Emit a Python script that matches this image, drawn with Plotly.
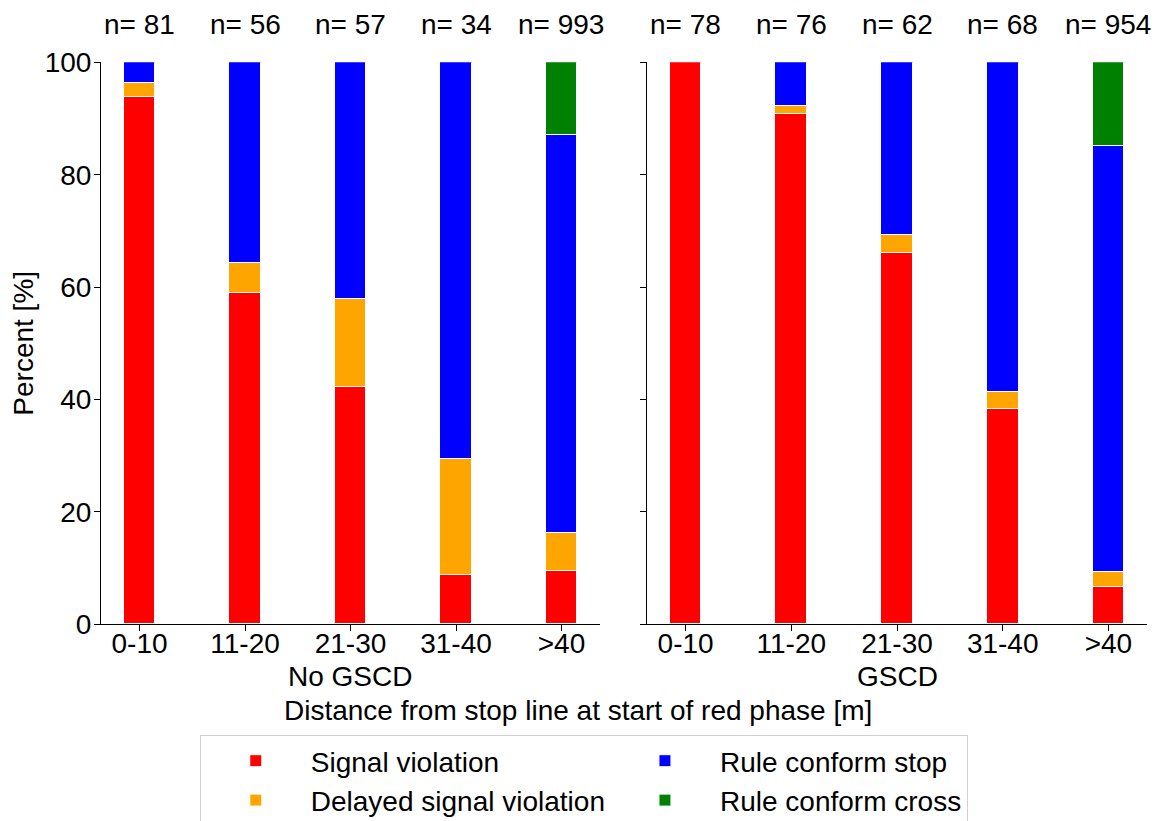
import plotly.graph_objects as go
from plotly.subplots import make_subplots

categories = ["0-10", "11-20", "21-30", "31-40", ">40"]
groups = ["No GSCD", "GSCD"]

# Percent values per category (No GSCD)
nogscd_signal_violation = [93.8, 58.9, 42.1, 8.8, 9.5]
nogscd_delayed_violation = [2.5, 5.4, 15.8, 20.6, 6.7]
nogscd_conform_stop = [3.7, 35.7, 42.1, 70.6, 70.8]
nogscd_conform_cross = [0.0, 0.0, 0.0, 0.0, 13.0]
nogscd_n = [81, 56, 57, 34, 993]

# Percent values per category (GSCD)
gscd_signal_violation = [100.0, 90.8, 66.1, 38.2, 6.5]
gscd_delayed_violation = [0.0, 1.3, 3.2, 3.0, 2.7]
gscd_conform_stop = [0.0, 7.9, 30.7, 58.8, 75.8]
gscd_conform_cross = [0.0, 0.0, 0.0, 0.0, 15.0]
gscd_n = [78, 76, 62, 68, 954]

series_names = ["Signal violation", "Delayed signal violation",
                "Rule conform stop", "Rule conform cross"]
series_colors = ["#FF0000", "#FFA500", "#0000FF", "#008000"]
legend_ranks = [1, 3, 2, 4]

FONT = "Liberation Sans, Arial, sans-serif"
FS = 28
W, H = 1156, 821

fig = make_subplots(rows=1, cols=2, shared_yaxes=True)

panels = [
    ([nogscd_signal_violation, nogscd_delayed_violation, nogscd_conform_stop, nogscd_conform_cross], nogscd_n),
    ([gscd_signal_violation, gscd_delayed_violation, gscd_conform_stop, gscd_conform_cross], gscd_n),
]

for col, (series, ns) in enumerate(panels, start=1):
    for name, vals, color, rank in zip(series_names, series, series_colors, legend_ranks):
        fig.add_trace(
            go.Bar(
                x=categories, y=vals, name=name,
                marker=dict(color=color, line=dict(color="white", width=1)),
                width=0.3, showlegend=(col == 1), legendrank=rank,
                legendgroup=name,
            ),
            row=1, col=col,
        )
    xref = "x" if col == 1 else "x2"
    yref = "y" if col == 1 else "y2"
    for cat, n in zip(categories, ns):
        fig.add_annotation(
            x=cat, y=100, xref=xref, yref=yref, text=f"n= {n}",
            showarrow=False, yanchor="bottom", yshift=20,
            font=dict(size=FS, family=FONT, color="black"),
        )

x1_dom = [101 / W, 600 / W]
x2_dom = [647 / W, 1147 / W]
y_dom = [1 - 624.3 / H, 1 - 62.3 / H]

fig.update_layout(
    barmode="stack",
    width=W, height=H,
    margin=dict(l=0, r=0, t=0, b=0, autoexpand=False),
    paper_bgcolor="white", plot_bgcolor="white",
    font=dict(family=FONT, size=FS, color="black"),
    bargap=0,
    legend=dict(
        orientation="h", x=0.505, xanchor="center", y=1 - 735 / H, yanchor="top",
        font=dict(size=FS, family=FONT, color="black"),
        bordercolor="#d0d0d0", borderwidth=1, itemwidth=100,
        traceorder="normal",
    ),
)

axis_common = dict(
    showline=True, linecolor="black", linewidth=1,
    ticks="outside", ticklen=6, tickcolor="black", tickwidth=1,
    showgrid=False, zeroline=False, automargin=False,
    tickfont=dict(size=FS, family=FONT, color="black"),
)

fig.update_xaxes(**axis_common, range=[-0.365, 4.365], type="category",
                 ticklabelstandoff=-12)
fig.update_xaxes(domain=x1_dom, row=1, col=1)
fig.update_xaxes(domain=x2_dom, row=1, col=2)

fig.update_yaxes(**axis_common, range=[0, 100], tickvals=[0, 20, 40, 60, 80, 100],
                 domain=y_dom, ticklabelstandoff=-3)
fig.update_yaxes(title=dict(text="Percent [%]", font=dict(size=FS, family=FONT), standoff=2),
                 row=1, col=1)
fig.update_yaxes(showticklabels=False, row=1, col=2)

# group labels under each panel
for dom, label in zip([x1_dom, x2_dom], groups):
    fig.add_annotation(
        x=(dom[0] + dom[1]) / 2, y=1 - 676 / H, xref="paper", yref="paper",
        text=label, showarrow=False, xanchor="center", yanchor="middle",
        font=dict(size=FS, family=FONT, color="black"),
    )

fig.add_annotation(
    x=0.5, y=1 - 710 / H, xref="paper", yref="paper",
    text="Distance from stop line at start of red phase [m]",
    showarrow=False, xanchor="center", yanchor="middle",
    font=dict(size=FS, family=FONT, color="black"),
)

fig.write_html("out.html", config={"displayModeBar": False},
               post_script="document.body.style.margin='0';")
